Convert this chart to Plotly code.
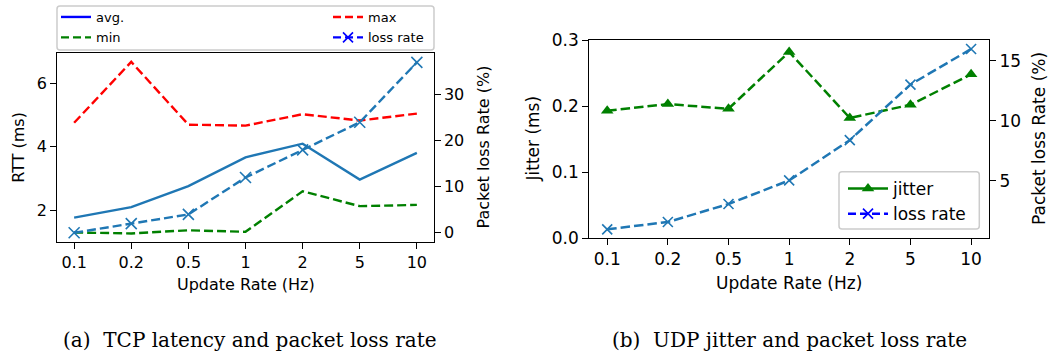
import plotly.graph_objects as go

# ---------------- data ----------------
rates = ["0.1", "0.2", "0.5", "1", "2", "5", "10"]
tcp_avg = [1.77, 2.10, 2.76, 3.67, 4.10, 2.97, 3.81]
tcp_max = [4.76, 6.68, 4.70, 4.67, 5.03, 4.83, 5.05]
tcp_min = [1.30, 1.27, 1.37, 1.32, 2.60, 2.13, 2.17]
tcp_loss = [0.0, 2.0, 4.0, 12.0, 18.0, 24.0, 37.0]
udp_jitter = [0.193, 0.203, 0.196, 0.282, 0.182, 0.202, 0.248]
udp_loss = [0.95, 1.56, 3.06, 5.03, 8.39, 13.03, 16.0]

W, H = 1051, 351
FONT = "DejaVu Sans"
C_BLUE = "#1f77b4"


def X(px):
    return px / W


def Y(py):
    return 1 - py / H


fig = go.Figure()

# ---------------- left panel ----------------
fig.add_trace(go.Scatter(x=rates, y=tcp_avg, mode="lines", line=dict(color=C_BLUE, width=2.4),
                         xaxis="x", yaxis="y", showlegend=False))
fig.add_trace(go.Scatter(x=rates, y=tcp_max, mode="lines", line=dict(color="red", width=2.4, dash="9px,4px"),
                         xaxis="x", yaxis="y", showlegend=False))
fig.add_trace(go.Scatter(x=rates, y=tcp_min, mode="lines", line=dict(color="green", width=2.4, dash="9px,4px"),
                         xaxis="x", yaxis="y", showlegend=False))
fig.add_trace(go.Scatter(x=rates, y=tcp_loss, mode="lines+markers",
                         line=dict(color=C_BLUE, width=2.4, dash="9px,4px"),
                         marker=dict(symbol="x-thin", size=11, line=dict(color=C_BLUE, width=1.6)),
                         xaxis="x", yaxis="y2", showlegend=False))

# legend handles (left panel)
fig.add_trace(go.Scatter(x=[None], y=[None], mode="lines", name="avg.", line=dict(color="blue", width=2.4),
                         xaxis="x", yaxis="y", legend="legend", legendgroup="a1"))
fig.add_trace(go.Scatter(x=[None], y=[None], mode="lines", name="min", line=dict(color="green", width=2.4, dash="8px,4px"),
                         xaxis="x", yaxis="y", legend="legend", legendgroup="a2"))
fig.add_trace(go.Scatter(x=[None], y=[None], mode="lines", name="max", line=dict(color="red", width=2.4, dash="8px,4px"),
                         xaxis="x", yaxis="y", legend="legend2", legendgroup="b1"))
fig.add_trace(go.Scatter(x=[None], y=[None], mode="lines+markers", name="loss rate",
                         line=dict(color="blue", width=2.4, dash="8px,4px"),
                         marker=dict(symbol="x-thin", size=10, line=dict(color="blue", width=1.6)),
                         xaxis="x", yaxis="y", legend="legend2", legendgroup="b2"))

# ---------------- right panel ----------------
fig.add_trace(go.Scatter(x=rates, y=udp_jitter, mode="lines+markers",
                         line=dict(color="green", width=2.5, dash="9.5px,4px"),
                         marker=dict(symbol="triangle-up", size=11, color="green"),
                         xaxis="x2", yaxis="y3", showlegend=False))
fig.add_trace(go.Scatter(x=rates, y=udp_loss, mode="lines+markers",
                         line=dict(color=C_BLUE, width=2.5, dash="9.5px,4px"),
                         marker=dict(symbol="x-thin", size=10, line=dict(color=C_BLUE, width=1.6)),
                         xaxis="x2", yaxis="y4", showlegend=False))

fig.add_trace(go.Scatter(x=[None], y=[None], mode="lines+markers", name="jitter",
                         line=dict(color="green", width=2.5),
                         marker=dict(symbol="triangle-up", size=11, color="green"),
                         xaxis="x2", yaxis="y3", legend="legend3"))
fig.add_trace(go.Scatter(x=[None], y=[None], mode="lines+markers", name="loss rate",
                         line=dict(color="blue", width=2.5, dash="8px,4px"),
                         marker=dict(symbol="x-thin", size=10, line=dict(color="blue", width=1.6)),
                         xaxis="x2", yaxis="y3", legend="legend3"))

# ---------------- axes ----------------
common = dict(showline=True, linecolor="black", linewidth=1.3, ticks="outside", ticklen=5.6,
              tickwidth=1.3, tickcolor="black", showgrid=False, zeroline=False, automargin=False)

fig.update_layout(
    template="none",
    width=W, height=H,
    margin=dict(l=0, r=0, t=0, b=0, pad=0, autoexpand=False),
    paper_bgcolor="white", plot_bgcolor="white",
    font=dict(family=FONT, color="black"),
    xaxis=dict(domain=[X(57), X(434)], anchor="y", type="category", range=[-0.3, 6.3], mirror=True,
               tickfont=dict(size=16), **common),
    yaxis=dict(domain=[Y(242), Y(53)], anchor="x", range=[1.0, 6.96], tickvals=[2, 4, 6],
               tickfont=dict(size=16), **common),
    yaxis2=dict(overlaying="y", anchor="x", side="right", range=[-2.0, 39.05], tickvals=[0, 10, 20, 30],
                tickfont=dict(size=16), **common),
    xaxis2=dict(domain=[X(589), X(989.3)], anchor="y3", type="category", range=[-0.3, 6.3], mirror=True,
                tickfont=dict(size=17), **common),
    yaxis3=dict(domain=[Y(238.3), Y(40)], anchor="x2", range=[0, 0.3], tickvals=[0, 0.1, 0.2, 0.3],
                ticktext=["0.0", "0.1", "0.2", "0.3"], tickfont=dict(size=17), **common),
    yaxis4=dict(overlaying="y3", anchor="x2", side="right", range=[0.2, 16.75], tickvals=[5, 10, 15],
                tickfont=dict(size=17), **common),
    legend=dict(x=X(56), y=Y(2), xanchor="left", yanchor="top", bgcolor="rgba(0,0,0,0)", borderwidth=0,
                font=dict(size=13, family=FONT), itemwidth=30, tracegroupgap=0.5),
    legend2=dict(x=X(328), y=Y(2), xanchor="left", yanchor="top", bgcolor="rgba(0,0,0,0)", borderwidth=0,
                 font=dict(size=13, family=FONT), itemwidth=30, tracegroupgap=0.5),
    legend3=dict(x=X(843), y=Y(171), xanchor="left", yanchor="top", bgcolor="rgba(0,0,0,0)", borderwidth=0,
                 font=dict(size=17, family=FONT), itemwidth=40),
)


def rrect(x0, y0, x1, y1, r=3):
    # rounded rectangle in pixel coordinates -> paper path
    pts = [
        ("M", x0 + r, y0), ("L", x1 - r, y0), ("Q", x1, y0, x1, y0 + r), ("L", x1, y1 - r),
        ("Q", x1, y1, x1 - r, y1), ("L", x0 + r, y1), ("Q", x0, y1, x0, y1 - r), ("L", x0, y0 + r),
        ("Q", x0, y0, x0 + r, y0),
    ]
    s = ""
    for p in pts:
        if p[0] in ("M", "L"):
            s += f"{p[0]}{X(p[1]):.5f},{Y(p[2]):.5f} "
        else:
            s += f"Q{X(p[1]):.5f},{Y(p[2]):.5f} {X(p[3]):.5f},{Y(p[4]):.5f} "
    return s + "Z"


fig.add_shape(type="path", xref="paper", yref="paper", path=rrect(57, 6, 434, 50),
              line=dict(color="#cccccc", width=1.5), fillcolor="rgba(255,255,255,0.8)", layer="below")
fig.add_shape(type="path", xref="paper", yref="paper", path=rrect(839, 171.7, 979.3, 229),
              line=dict(color="#cccccc", width=1.5), fillcolor="rgba(255,255,255,0.8)", layer="above")

# ---------------- titles & captions ----------------
ann = [
    dict(text="RTT (ms)", x=X(18.3), y=Y(147.5), textangle=-90, size=16),
    dict(text="Packet loss Rate (%)", x=X(483), y=Y(147.5), textangle=-90, size=16),
    dict(text="Update Rate (Hz)", x=X(245.5), y=Y(284), textangle=0, size=16),
    dict(text="Jitter (ms)", x=X(532.5), y=Y(139), textangle=-90, size=17),
    dict(text="Packet loss Rate (%)", x=X(1039), y=Y(139), textangle=-90, size=17),
    dict(text="Update Rate (Hz)", x=X(789), y=Y(283), textangle=0, size=17),
]
for a in ann:
    fig.add_annotation(text=a["text"], x=a["x"], y=a["y"], xref="paper", yref="paper",
                       xanchor="center", yanchor="middle", textangle=a["textangle"], showarrow=False,
                       font=dict(size=a["size"], family=FONT, color="black"))

captions = [("(a)\u00a0\u00a0TCP latency and packet loss rate", 250), ("(b)\u00a0\u00a0UDP jitter and packet loss rate", 789)]
for txt, cx in captions:
    fig.add_annotation(text=txt, x=X(cx), y=Y(340), xref="paper", yref="paper", xanchor="center",
                       yanchor="middle", showarrow=False,
                       font=dict(size=20, family="DejaVu Serif", color="black"))

# remove the browser's default 8px page margin so the figure fills the window exactly
fig.write_html("out.html", config={"displayModeBar": False},
               post_script="document.body.style.margin='0px';")
